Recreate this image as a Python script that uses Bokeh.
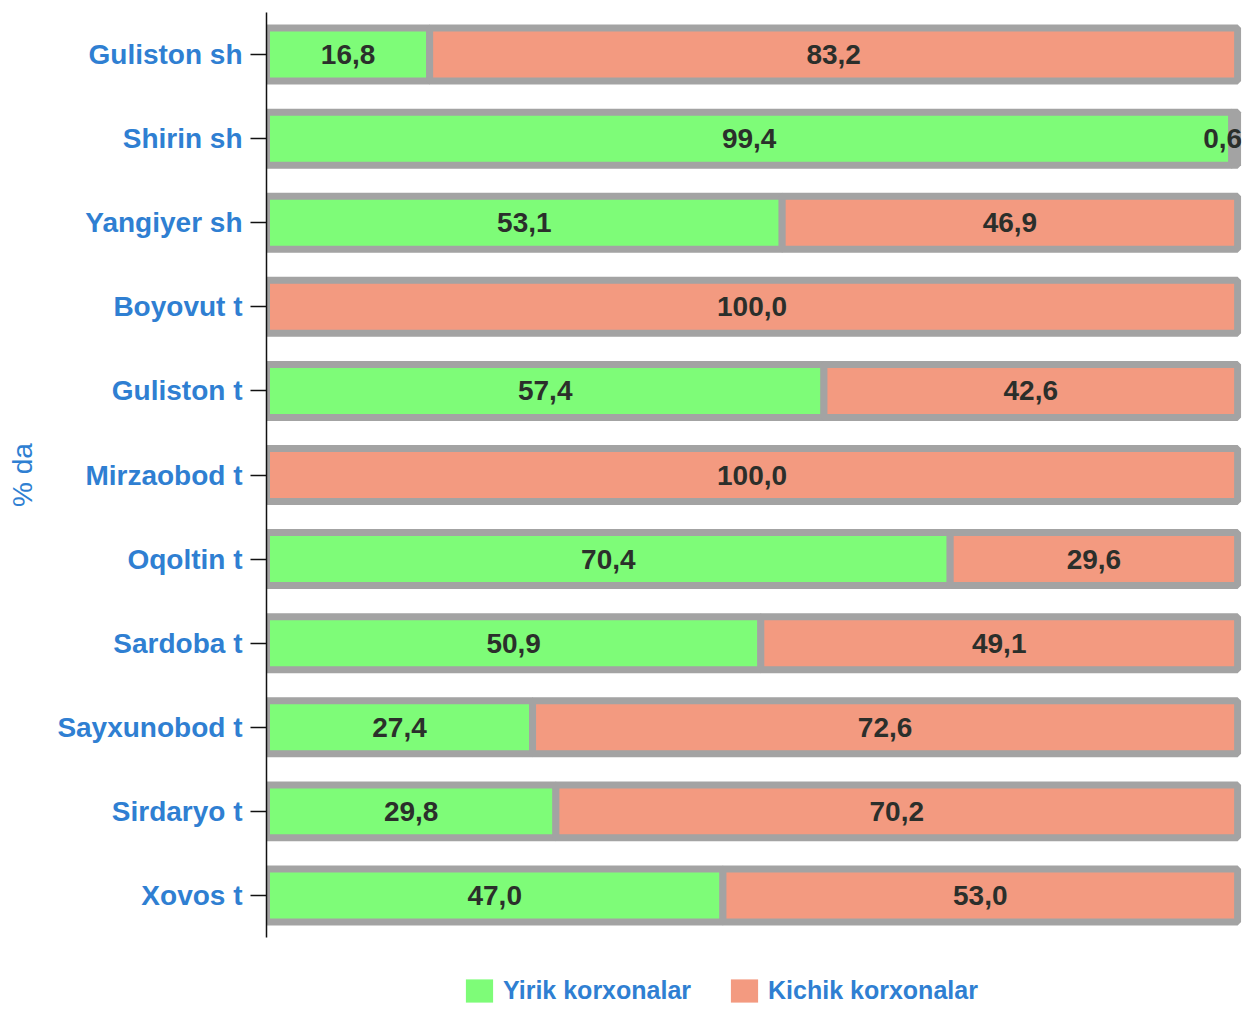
from bokeh.plotting import figure
from bokeh.layouts import column
from bokeh.models import (ColumnDataSource, FactorRange, Range1d, LabelSet, Legend, LegendItem)
from bokeh.core.properties import value
from bokeh.embed import file_html
from bokeh.resources import INLINE

# ---- data ----
categories = ["Guliston sh", "Shirin sh", "Yangiyer sh", "Boyovut t", "Guliston t",
              "Mirzaobod t", "Oqoltin t", "Sardoba t", "Sayxunobod t", "Sirdaryo t", "Xovos t"]
yirik = [16.8, 99.4, 53.1, 0.0, 57.4, 0.0, 70.4, 50.9, 27.4, 29.8, 47.0]
kichik = [83.2, 0.6, 46.9, 100.0, 42.6, 100.0, 29.6, 49.1, 72.6, 70.2, 53.0]
series_names = ["Yirik korxonalar", "Kichik korxonalar"]
axis_title = "% da"

GREEN = "#7efc78"
SALMON = "#f39a80"
GRAY = "#a3a3a3"
BLUE = "#2f7fd2"
FONT = "Liberation Sans"

def fmt(v):
    return ("%.1f" % v).replace(".", ",")

n = len(categories)
src_g = ColumnDataSource(dict(cat=categories, left=[0.0] * n, right=yirik))
src_k = ColumnDataSource(dict(cat=categories, left=yirik,
                              right=[a + b for a, b in zip(yirik, kichik)]))

lab_c, lab_x, lab_t, lab_off = [], [], [], []
for c, a, b in zip(categories, yirik, kichik):
    if a > 0:
        lab_c.append(c); lab_x.append(a / 2); lab_t.append(fmt(a)); lab_off.append(0)
    if b > 0:
        lab_c.append(c); lab_x.append(a + b / 2); lab_t.append(fmt(b))
        lab_off.append(-12 if b < 3 else 0)
src_lab = ColumnDataSource(dict(cat=lab_c, x=lab_x, t=lab_t, off=lab_off))

# ---------------- main chart ----------------
p = figure(width=1245, height=945, output_backend="svg", toolbar_location=None,
           y_range=FactorRange(*list(reversed(categories)), range_padding=0),
           x_range=Range1d(0, 100.4),
           min_border_left=266, min_border_top=12, min_border_right=4, min_border_bottom=8)

p.hbar(y="cat", left="left", right="right", height=0.63, source=src_g,
       fill_color=GREEN, line_color=GRAY, line_width=7)
p.hbar(y="cat", left="left", right="right", height=0.63, source=src_k,
       fill_color=SALMON, line_color=GRAY, line_width=7)

labels = LabelSet(x="x", y="cat", text="t", source=src_lab, x_offset="off",
                  text_align="center", text_baseline="middle",
                  text_font=value(FONT), text_font_style="bold",
                  text_font_size="28px", text_color="#2b2f2b")
p.add_layout(labels)

p.xaxis.visible = False
p.xgrid.grid_line_color = None
p.ygrid.grid_line_color = None
p.outline_line_color = None

ax = p.yaxis[0]
ax.axis_line_color = "#111111"
ax.axis_line_width = 1.5
ax.major_tick_line_color = "#111111"
ax.major_tick_line_width = 1.5
ax.major_tick_out = 16
ax.major_tick_in = 0
ax.minor_tick_line_color = None
ax.major_label_standoff = 8
ax.major_label_text_font = FONT
ax.major_label_text_font_style = "bold"
ax.major_label_text_font_size = "28px"
ax.major_label_text_color = BLUE
ax.axis_label = axis_title
ax.axis_label_text_font = FONT
ax.axis_label_text_font_style = "normal"
ax.axis_label_text_font_size = "28px"
ax.axis_label_text_color = BLUE
ax.axis_label_standoff = 16

# ---------------- legend strip ----------------
pl = figure(width=1245, height=60, output_backend="svg", toolbar_location=None,
            x_range=Range1d(0, 1), y_range=Range1d(0, 1),
            min_border_left=266, min_border_right=4, min_border_top=0, min_border_bottom=0)
pl.axis.visible = False
pl.grid.grid_line_color = None
pl.outline_line_color = None
# swatch renderers: placed outside the visible range, used only by the legend
sw_g = pl.hbar(y=[-5], left=[0], right=[1], height=0.5, fill_color=GREEN, line_color=None)
sw_k = pl.hbar(y=[-5], left=[0], right=[1], height=0.5, fill_color=SALMON, line_color=None)

legend = Legend(items=[LegendItem(label=series_names[0], renderers=[sw_g]),
                       LegendItem(label=series_names[1], renderers=[sw_k])],
                orientation="horizontal", location=(196, 0),
                padding=0, margin=0, spacing=36, label_standoff=7,
                glyph_width=34, glyph_height=29, label_height=29,
                border_line_color=None, background_fill_alpha=0,
                label_text_font=FONT, label_text_font_style="bold",
                label_text_font_size="25px", label_text_color=BLUE)
pl.add_layout(legend, "center")

layout = column(p, pl, spacing=0)
open("out.html", "w").write(file_html(layout, INLINE))
